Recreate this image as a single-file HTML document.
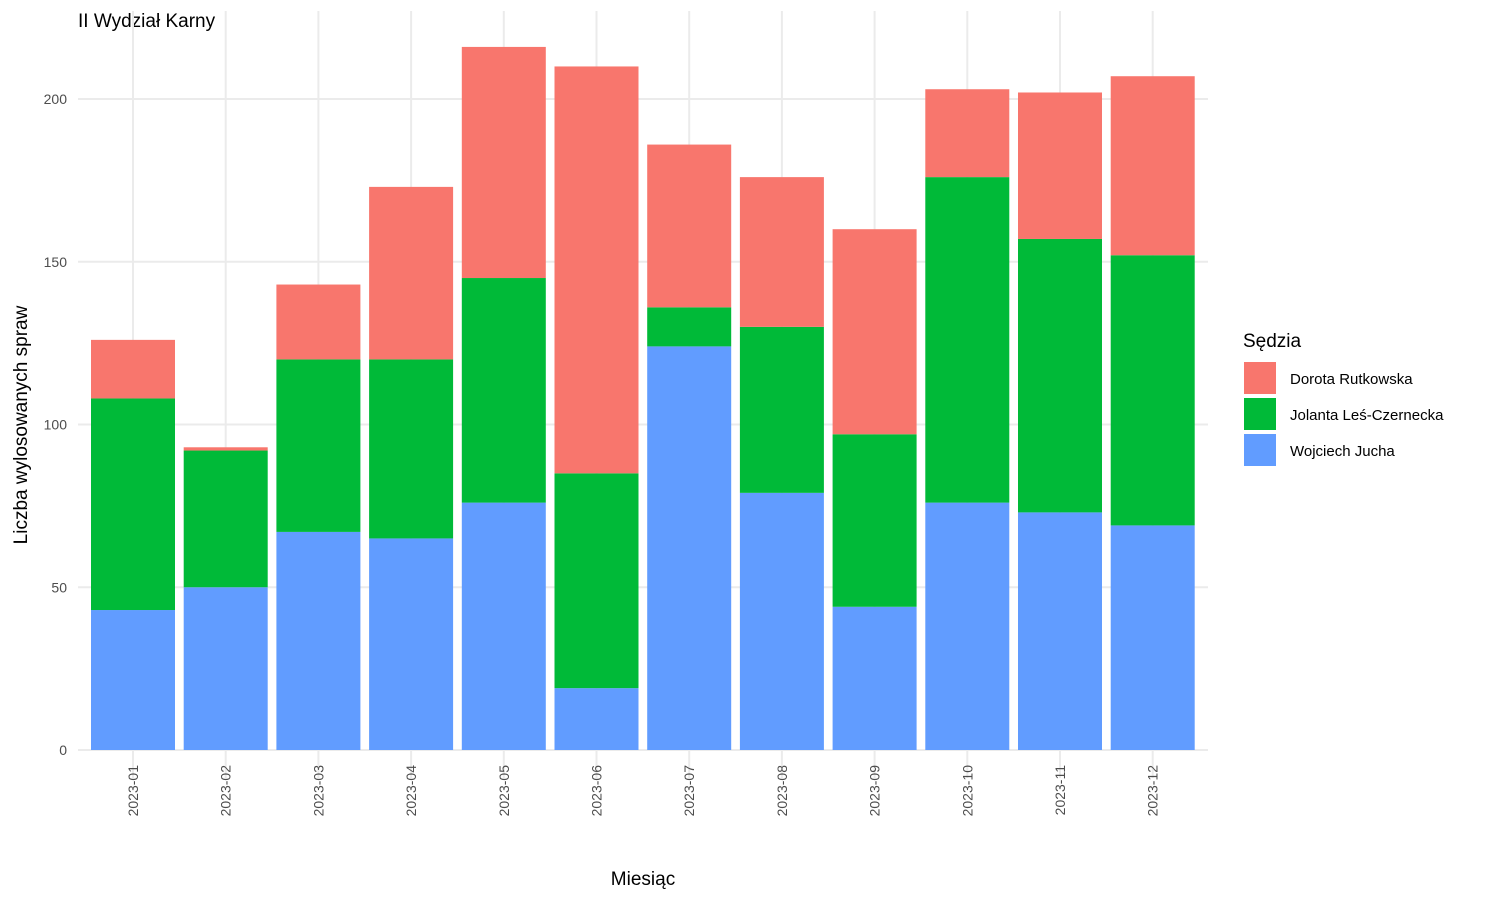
<!DOCTYPE html>
<html><head><meta charset="utf-8"><style>
body{margin:0;background:#fff;}
svg text{font-family:"Liberation Sans",sans-serif;}
</style></head><body>
<svg id="chart" width="1500" height="900" xmlns="http://www.w3.org/2000/svg">
<text x="78" y="27" font-size="19" fill="#000">II Wydział Karny</text>
<g id="grid"></g>
<g id="bars"></g>
<g id="axes"></g>
<text x="643" y="885" font-size="19" text-anchor="middle" fill="#000">Miesiąc</text>
<text transform="translate(27,425) rotate(-90)" font-size="19" text-anchor="middle" fill="#000">Liczba wylosowanych spraw</text>
<g>
<text x="1243" y="347" font-size="19" fill="#000">Sędzia</text>
<g id="legend-items"></g>
</g>
</svg>
<script>
const categories=["2023-01","2023-02","2023-03","2023-04","2023-05","2023-06","2023-07","2023-08","2023-09","2023-10","2023-11","2023-12"];
const wojciech=[43,50,67,65,76,19,124,79,44,76,73,69];
const jolanta=[65,42,53,55,69,66,12,51,53,100,84,83];
const dorota=[18,1,23,53,71,125,50,46,63,27,45,55];
const yTicks=[0,50,100,150,200];
const seriesNames=["Dorota Rutkowska","Jolanta Leś-Czernecka","Wojciech Jucha"];
const colors=["#F8766D","#00BA38","#619CFF"];
const NS="http://www.w3.org/2000/svg";
const x0=78,x1=1208,yBase=750,yTop200=99,step=92.7,firstC=133,bw=84;
const y=v=>yBase-v*(yBase-yTop200)/200;
const xc=i=>firstC+i*step;
function mk(t,a,p){const e=document.createElementNS(NS,t);for(const k in a)e.setAttribute(k,a[k]);p.appendChild(e);return e;}
const grid=document.getElementById('grid'),bars=document.getElementById('bars'),axes=document.getElementById('axes');
yTicks.forEach(t=>{
 const l=mk('line',{x1:x0,x2:x1,y1:y(t),y2:y(t),stroke:'#ebebeb','stroke-width':2},grid);
 
 
 const tx=mk('text',{x:67,y:y(t)+5,'font-size':14,'text-anchor':'end',fill:'#4d4d4d'},axes);
 tx.textContent=t;
 
 
});
categories.forEach((c,i)=>{
 const l=mk('line',{x1:xc(i),x2:xc(i),y1:11,y2:778,stroke:'#ebebeb','stroke-width':2},grid);
 
 
 const tx=mk('text',{transform:`translate(${xc(i)+5},765) rotate(-90)`,'font-size':14,'text-anchor':'end',fill:'#4d4d4d'},axes);
 tx.textContent=c;
 
 
 const vals=[wojciech[i],jolanta[i],dorota[i]],cols=[colors[2],colors[1],colors[0]];
 const nm=['bar-wojciech','bar-jolanta','bar-dorota'];
 let cum=0;
 vals.forEach((v,k)=>{
  const r=mk('rect',{x:xc(i)-bw/2,y:y(cum+v),width:bw,height:y(cum)-y(cum+v),fill:cols[k]},bars);
  
  
  cum+=v;
 });
});
const li=document.getElementById('legend-items');
seriesNames.forEach((n,k)=>{
 const r=mk('rect',{x:1244,y:362+k*36,width:32,height:32,fill:colors[k]},li);
 
 
 const t=mk('text',{x:1290,y:384+k*36,'font-size':15,fill:'#000'},li);
 t.textContent=n;
 
 
});
</script>
</body></html>
